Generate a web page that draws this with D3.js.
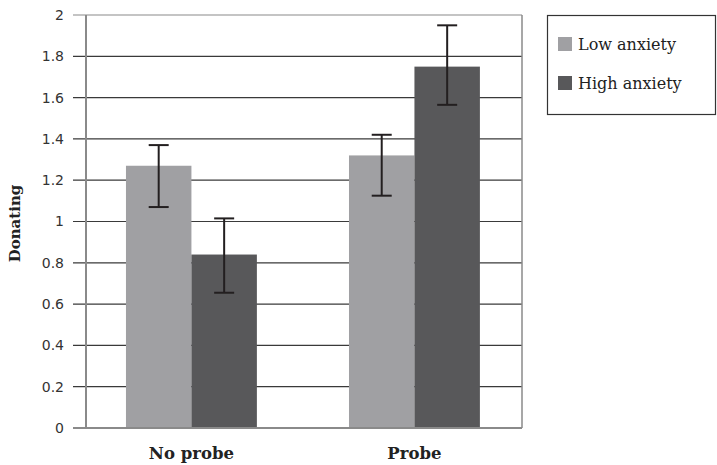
<!DOCTYPE html>
<html lang="en">
<head>
<meta charset="utf-8">
<title>Donating by probe and anxiety</title>
<script src="https://d3js.org/d3.v7.min.js"></script>
<style>
  body { margin: 0; background: white; }
  .tick text { font-family: "DejaVu Sans", sans-serif; font-size: 14px; fill: #333; }
  .catLabel { font-family: "DejaVu Serif", serif; font-weight: bold; font-size: 16.5px; fill: #222; }
  .yTitle { font-family: "DejaVu Serif", serif; font-weight: bold; font-size: 15px; fill: #222; }
  .legendText { font-family: "DejaVu Serif", serif; font-size: 16px; fill: #222; }
</style>
</head>
<body>
<svg></svg>
<script>
const categories = ["No probe", "Probe"];
const seriesNames = ["Low anxiety", "High anxiety"];
const lowValues = [1.27, 1.32];
const highValues = [0.84, 1.75];
const lowErrUp = [1.37, 1.42];
const lowErrDown = [1.07, 1.125];
const highErrUp = [1.015, 1.95];
const highErrDown = [0.655, 1.565];
const yTicks = [0, 0.2, 0.4, 0.6, 0.8, 1, 1.2, 1.4, 1.6, 1.8, 2];

const colors = ["#a0a0a3", "#58585a"];

const width = 717, height = 465;
const plotL = 86, plotR = 522, plotT = 15, plotB = 428;

const svg = d3.select("svg").attr("width", width).attr("height", height);

const x = d3.scaleBand().domain(categories).range([plotL, plotR])
  .paddingInner(0.413).paddingOuter(0.184).align(0.487);
const xs = d3.scaleBand().domain(seriesNames).range([0, x.bandwidth()]);
const y = d3.scaleLinear().domain([0, 2]).range([plotB, plotT]);

// gridlines + tick marks
svg.append("g").selectAll("line")
  .data(yTicks.filter(d => d > 0))
  .join("line")
  .attr("x1", plotL - 13).attr("x2", plotR)
  .attr("y1", d => y(d)).attr("y2", d => y(d))
  .attr("stroke", d => d === 2 ? "#8a8a8a" : "#3a3a3a")
  .attr("stroke-width", 1.2);

// y axis labels
const yAxis = d3.axisLeft(y).tickValues(yTicks).tickSize(0).tickPadding(22)
  .tickFormat(d => d3.format("")(d));
svg.append("g").attr("transform", `translate(${plotL},0)`).call(yAxis)
  .call(g => g.select(".domain").remove());

// bars
const rows = categories.map((c, i) => ({
  cat: c,
  vals: [
    {s: seriesNames[0], v: lowValues[i], up: lowErrUp[i], dn: lowErrDown[i]},
    {s: seriesNames[1], v: highValues[i], up: highErrUp[i], dn: highErrDown[i]}
  ]
}));

const grp = svg.append("g").selectAll("g").data(rows).join("g")
  .attr("transform", d => `translate(${x(d.cat)},0)`);

grp.selectAll("rect").data(d => d.vals).join("rect")
  .attr("x", d => xs(d.s)).attr("width", xs.bandwidth())
  .attr("y", d => y(d.v)).attr("height", d => y(0) - y(d.v))
  .attr("fill", (d, i) => colors[i]);

// error bars
const eb = grp.selectAll("g.err").data(d => d.vals).join("g").attr("class", "err")
  .attr("stroke", "#231f20").attr("stroke-width", 2);
eb.append("line")
  .attr("x1", d => xs(d.s) + xs.bandwidth() / 2).attr("x2", d => xs(d.s) + xs.bandwidth() / 2)
  .attr("y1", d => y(d.up)).attr("y2", d => y(d.dn));
eb.append("line")
  .attr("x1", d => xs(d.s) + xs.bandwidth() / 2 - 10).attr("x2", d => xs(d.s) + xs.bandwidth() / 2 + 10)
  .attr("y1", d => y(d.up)).attr("y2", d => y(d.up));
eb.append("line")
  .attr("x1", d => xs(d.s) + xs.bandwidth() / 2 - 10).attr("x2", d => xs(d.s) + xs.bandwidth() / 2 + 10)
  .attr("y1", d => y(d.dn)).attr("y2", d => y(d.dn));

// plot border: left axis, right edge, zero line
svg.append("line").attr("x1", plotL).attr("x2", plotL).attr("y1", plotT).attr("y2", plotB)
  .attr("stroke", "#8a8a8a").attr("stroke-width", 2);
svg.append("line").attr("x1", plotR).attr("x2", plotR).attr("y1", plotT).attr("y2", plotB)
  .attr("stroke", "#8a8a8a").attr("stroke-width", 1.5);
svg.append("line").attr("x1", plotL - 13).attr("x2", plotR).attr("y1", plotB).attr("y2", plotB)
  .attr("stroke", "#8a8a8a").attr("stroke-width", 2);

// category labels
svg.append("g").selectAll("text").data(categories).join("text")
  .attr("class", "catLabel")
  .attr("x", d => x(d) + x.bandwidth() / 2)
  .attr("y", 459)
  .attr("text-anchor", "middle")
  .text(d => d);

// y title
svg.append("text")
  .attr("class", "yTitle")
  .attr("transform", `translate(20,${(plotT + plotB) / 2 + 2}) rotate(-90)`)
  .attr("text-anchor", "middle")
  .text("Donating");

// legend
svg.append("rect").attr("x", 547.5).attr("y", 15.5).attr("width", 168).attr("height", 99)
  .attr("fill", "white").attr("stroke", "#333").attr("stroke-width", 1.2);
const leg = svg.append("g").selectAll("g").data(seriesNames).join("g")
  .attr("transform", (d, i) => `translate(558,${37 + i * 39})`);
leg.append("rect").attr("width", 14).attr("height", 14).attr("fill", (d, i) => colors[i]);
leg.append("text").attr("class", "legendText").attr("x", 20).attr("y", 13).text(d => d);
</script>
</body>
</html>
